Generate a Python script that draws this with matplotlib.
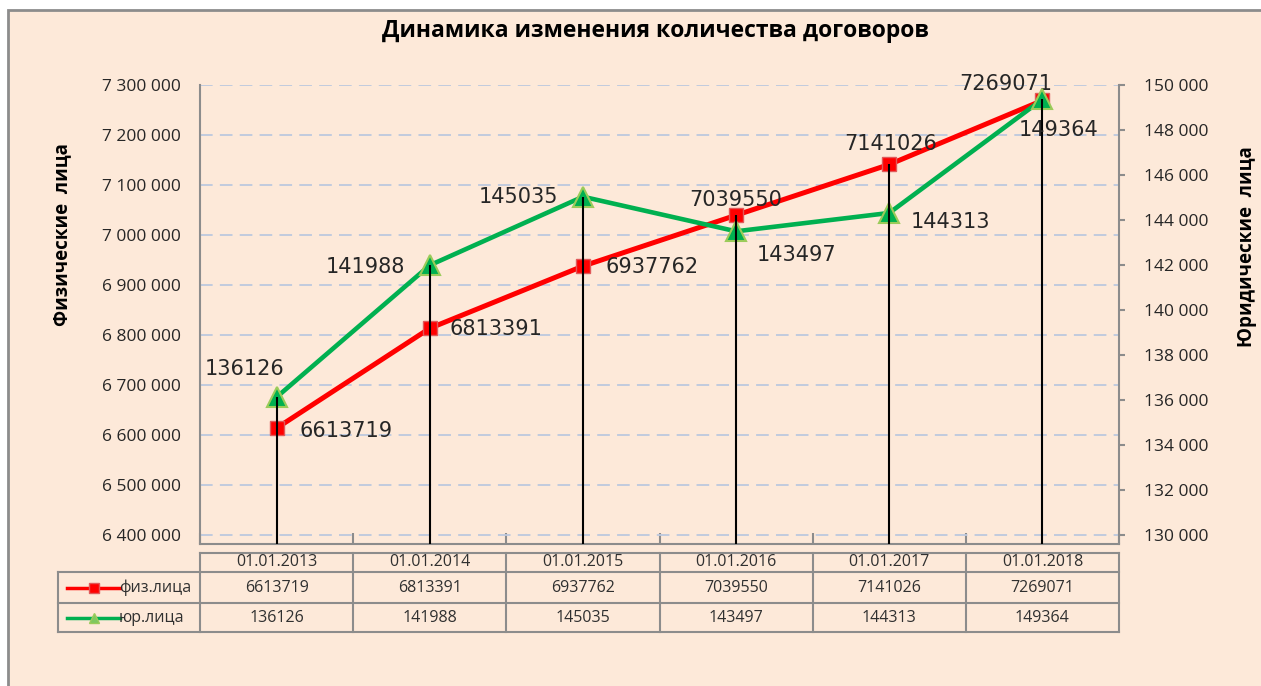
import matplotlib
matplotlib.use("Agg")
import matplotlib.pyplot as plt
from matplotlib.patches import Rectangle
from matplotlib.ticker import FuncFormatter
import numpy as np

# data
dates = ["01.01.2013", "01.01.2014", "01.01.2015", "01.01.2016", "01.01.2017", "01.01.2018"]
fiz = [6613719, 6813391, 6937762, 7039550, 7141026, 7269071]
yur = [136126, 141988, 145035, 143497, 144313, 149364]
fiz_name = "физ.лица"
yur_name = "юр.лица"
title = "Динамика изменения количества договоров"
left_label = "Физические  лица"
right_label = "Юридические  лица"
left_ticks = np.arange(6400000, 7300001, 100000)
right_ticks = np.arange(130000, 150001, 2000)

# label offsets in pixels (ha, dx, dy)
fiz_lbl = [("left", 23, -3), ("left", 20, -1), ("left", 23, -1),
           ("center", 0, 15), ("center", 1, 20), ("center", -37, 16)]
yur_lbl = [("center", -32, 28), ("right", -25, -2), ("right", -25, 0),
           ("left", 21, -24), ("left", 21, -9), ("center", 16, -31)]

RED = "#FF0000"
GREEN = "#00B050"
GRAY = "#8C8C8C"
BG = "#FDE9D9"
TXT = "#262626"
SANS = ["Open Sans", "DejaVu Sans"]

W, H = 1261, 686
fig = plt.figure(figsize=(W / 100, H / 100), dpi=100)
fig.patch.set_facecolor("white")
fig.patches.append(Rectangle((8 / W, -0.01), 1.0, 1 - 10 / H + 0.01, transform=fig.transFigure,
                             facecolor=BG, edgecolor=GRAY, linewidth=2, zorder=-5))


def fmt_space(v, pos=None):
    return f"{int(v):,}".replace(",", " ")


# main axes (pixel layout)
L, R, T, B = 200, 1119, 85, 544
ax = fig.add_axes([L / W, (H - B) / H, (R - L) / W, (B - T) / H])
ax.set_facecolor("none")
ax2 = ax.twinx()
ax2.set_facecolor("none")

x = np.arange(len(dates))
ax.set_xlim(-0.5, len(dates) - 0.5)
ax.set_ylim(6400000 - 18000, 7300000)
ax2.set_ylim(130000 - 400, 150000)

ax.set_yticks(left_ticks)
ax.yaxis.set_major_formatter(FuncFormatter(fmt_space))
ax2.set_yticks(right_ticks)
ax2.yaxis.set_major_formatter(FuncFormatter(fmt_space))

ax.yaxis.grid(True, color="#BCC8DE", linestyle=(0, (7, 4)), linewidth=1.3)
ax.set_axisbelow(True)

for a in (ax, ax2):
    for s in a.spines.values():
        s.set_color(GRAY)
        s.set_linewidth(1.5)
    a.spines["top"].set_visible(False)
ax.spines["right"].set_visible(False)
ax2.spines["left"].set_visible(False)
ax2.spines["bottom"].set_visible(False)

ax.tick_params(axis="y", length=0, pad=14, labelsize=12.5, labelcolor=TXT)
ax2.tick_params(axis="y", length=4, color=GRAY, width=1.5, pad=14, labelsize=12.5, labelcolor=TXT)
for lab in ax.get_yticklabels() + ax2.get_yticklabels():
    lab.set_family(SANS)
ax.set_xticks(np.arange(-0.5, len(dates)))
ax.tick_params(axis="x", direction="in", length=8, color=GRAY, width=1.5, labelbottom=False)

ax.plot(x, fiz, color=RED, linewidth=3.6, marker="s", markersize=10.5,
        markerfacecolor=RED, markeredgecolor="#E05A5A", markeredgewidth=1, zorder=3)
ax2.plot(x, yur, color=GREEN, linewidth=3.3, marker="^", markersize=14,
         markerfacecolor=GREEN, markeredgecolor="#9BCB5A", markeredgewidth=1.5, zorder=3)

# drop lines from the higher point down to the bottom of the plot
fiz_on_right = ax2.transData.inverted().transform(
    ax.transData.transform(np.column_stack([x, fiz])))[:, 1]
tops = np.maximum(fiz_on_right, yur)
ax2.vlines(x, ax2.get_ylim()[0], tops, color="black", linewidth=1.5, zorder=4)

for i, v in enumerate(fiz):
    ha, dx, dy = fiz_lbl[i]
    ax.annotate(str(v), (x[i], v), xytext=(dx, dy), textcoords="offset pixels",
                ha=ha, va="center", fontsize=15, color=TXT, family="DejaVu Sans",
                annotation_clip=False, zorder=5)
for i, v in enumerate(yur):
    ha, dx, dy = yur_lbl[i]
    ax2.annotate(str(v), (x[i], v), xytext=(dx, dy), textcoords="offset pixels",
                 ha=ha, va="center", fontsize=15, color=TXT, family="DejaVu Sans",
                 annotation_clip=False, zorder=5)

# data table under the plot
TL = 58
unit = (R - L) / len(dates)
left_edge = -0.5 - (L - TL) / unit
row_edges = [0, 19, 50, 79]
tab_top, tab_bot = 553, 553 + row_edges[-1]
tab = fig.add_axes([TL / W, (H - tab_bot) / H, (R - TL) / W, (tab_bot - tab_top) / H])
tab.set_xlim(left_edge, len(dates) - 0.5)
tab.set_ylim(row_edges[-1], 0)
tab.axis("off")
lkw = dict(color=GRAY, linewidth=1.5, solid_capstyle="projecting", clip_on=False)
tab.plot([-0.5, len(dates) - 0.5], [row_edges[0]] * 2, **lkw)
for ry in row_edges[1:]:
    tab.plot([left_edge, len(dates) - 0.5], [ry] * 2, **lkw)
for k in range(len(dates) + 1):
    tab.plot([k - 0.5] * 2, [row_edges[0], row_edges[-1]], **lkw)
tab.plot([left_edge] * 2, [row_edges[1], row_edges[-1]], **lkw)

tkw = dict(ha="center", va="center", fontsize=11.5, color="#303030", family=SANS)
for i, d in enumerate(dates):
    tab.text(x[i], (row_edges[0] + row_edges[1]) / 2, d, **tkw)
    tab.text(x[i], (row_edges[1] + row_edges[2]) / 2, str(fiz[i]), **tkw)
    tab.text(x[i], (row_edges[2] + row_edges[3]) / 2, str(yur[i]), **tkw)

key_w = (L - TL) / unit
for r, (name, col, mk, ms, mfc, mec) in enumerate(
        [(fiz_name, RED, "s", 7, RED, "#E05A5A"), (yur_name, GREEN, "^", 7, "#7FC860", "#9BCB5A")]):
    yc = (row_edges[r + 1] + row_edges[r + 2]) / 2
    x0 = left_edge + 0.06 * key_w
    x1 = left_edge + 0.44 * key_w
    tab.plot([x0, x1], [yc, yc], color=col, linewidth=2.5)
    tab.plot([(x0 + x1) / 2], [yc], marker=mk, markersize=ms, color=mfc, markeredgecolor=mec)
    tab.text(x1 - 0.01, yc, name, ha="left", va="center", fontsize=11.5, color="#303030", family=SANS)

fig.text(655 / W, 1 - 31 / H, title, ha="center", va="center", fontsize=16.5,
         fontweight="bold", color="black", family=SANS)
fig.text(62 / W, 1 - 235 / H, left_label, rotation=90, ha="center", va="center",
         fontsize=13.5, fontweight="bold", color="black", family=SANS)
fig.text(1247 / W, 1 - 247 / H, right_label, rotation=90, ha="center", va="center",
         fontsize=13.5, fontweight="bold", color="black", family=SANS)

fig.savefig("out.png", dpi=100)
